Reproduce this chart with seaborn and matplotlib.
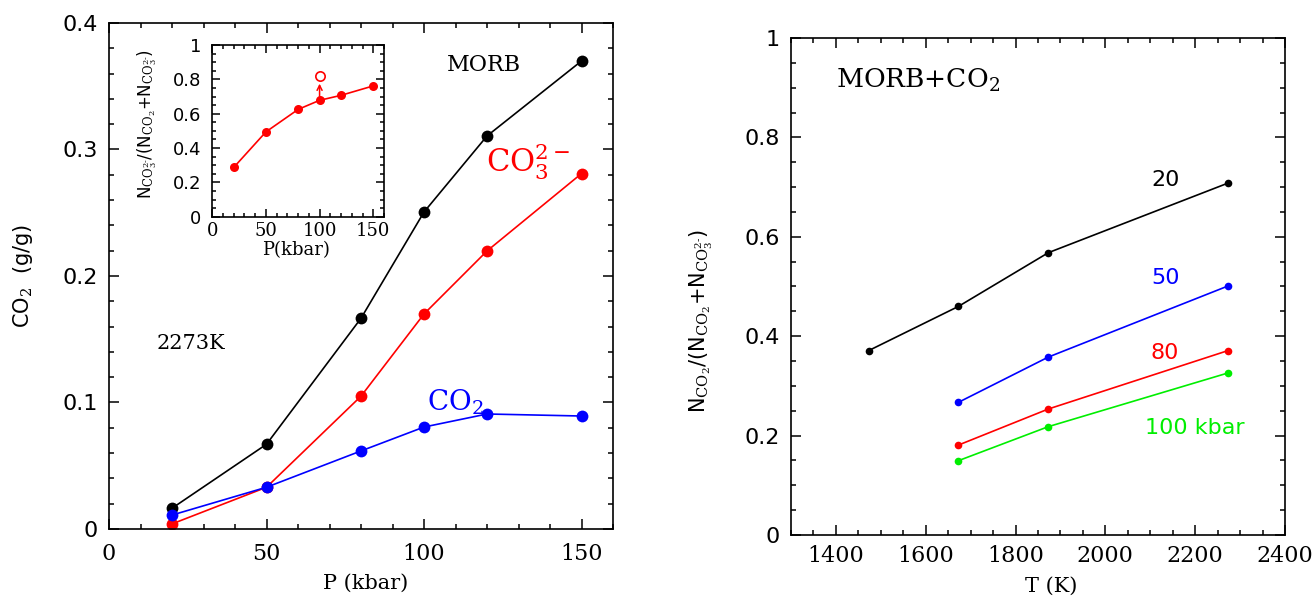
import numpy as np
import pandas as pd
import matplotlib
matplotlib.use('Agg')
import matplotlib.pyplot as plt
from matplotlib.ticker import MultipleLocator
import seaborn as sns

# Left panel: CO2 content vs pressure at 2273 K
pressure = [20, 50, 80, 100, 120, 150]
morb_total = [0.0164, 0.067, 0.1666, 0.2506, 0.3107, 0.370]
carbonate = [0.004, 0.033, 0.105, 0.170, 0.2198, 0.281]
molecular = [0.011, 0.033, 0.0617, 0.0806, 0.0909, 0.0893]

# Inset: carbonate fraction vs pressure
inset_frac = [0.287, 0.494, 0.625, 0.678, 0.707, 0.762]
open_p = [100]
open_frac = [0.82]

# Right panel: molecular CO2 fraction vs temperature
temps = [1473, 1673, 1873, 2273]
frac_20 = [0.371, 0.460, 0.568, 0.708]
temps_hi = [1673, 1873, 2273]
frac_50 = [0.267, 0.358, 0.501]
frac_80 = [0.181, 0.2535, 0.371]
frac_100 = [0.1496, 0.218, 0.326]

sns.set_style("ticks")
plt.rcParams['font.family'] = ['DejaVu Serif']
plt.rcParams['mathtext.fontset'] = 'dejavuserif'
plt.rcParams['text.color'] = 'black'
plt.rcParams['axes.labelcolor'] = 'black'
plt.rcParams['xtick.color'] = 'black'
plt.rcParams['ytick.color'] = 'black'

SANS = ['DejaVu Sans']
GREEN = '#00ee00'

fig = plt.figure(figsize=(13.15, 6.02), dpi=100)
ax1 = fig.add_axes([0.0829, 0.1213, 0.3833, 0.8405])
ax2 = fig.add_axes([0.6015, 0.1113, 0.3757, 0.8256])
axin = fig.add_axes([0.1614, 0.640, 0.1306, 0.2852])


def style_axes(ax, major_len=7, minor_len=3.5, size=16, xpad=10, ypad=8):
    ax.tick_params(which='both', direction='in', top=True, right=True,
                   width=1.1, colors='black')
    ax.tick_params(which='major', length=major_len)
    ax.tick_params(which='minor', length=minor_len)
    ax.tick_params(axis='x', labelsize=size, pad=xpad)
    ax.tick_params(axis='y', labelsize=size, pad=ypad)
    for lab in ax.get_yticklabels():
        lab.set_family(SANS)
    for s in ax.spines.values():
        s.set_linewidth(1.2)
        s.set_color('black')


# ---- left panel ----
line_kw = dict(marker='o', markeredgewidth=0, linewidth=1.2)
sns.lineplot(x=pressure, y=morb_total, ax=ax1, color='black', markersize=8.5, **line_kw)
sns.lineplot(x=pressure, y=carbonate, ax=ax1, color='red', markersize=8.5, **line_kw)
sns.lineplot(x=pressure, y=molecular, ax=ax1, color='blue', markersize=8.5, **line_kw)
ax1.set_xlim(0, 160)
ax1.set_ylim(0, 0.4)
ax1.xaxis.set_major_locator(MultipleLocator(50))
ax1.xaxis.set_minor_locator(MultipleLocator(10))
ax1.yaxis.set_major_locator(MultipleLocator(0.1))
ax1.yaxis.set_minor_locator(MultipleLocator(0.02))
ax1.set_yticks([0, 0.1, 0.2, 0.3, 0.4], ['0', '0.1', '0.2', '0.3', '0.4'])
style_axes(ax1)
ax1.set_xlabel('P (kbar)', fontsize=15)
ax1.xaxis.set_label_coords(0.51, -0.088)
ax1.set_ylabel(r'CO$_2$  (g/g)', fontsize=15, family=SANS)
ax1.yaxis.set_label_coords(-0.147, 0.5)

ax1.text(119, 0.367, 'MORB', fontsize=16, ha='center', va='center')
ax1.text(133, 0.290, r'CO$_3^{2-}$', fontsize=22, color='red', ha='center', va='center')
ax1.text(110, 0.100, r'CO$_2$', fontsize=20, color='blue', ha='center', va='center')
ax1.text(26, 0.147, '2273K', fontsize=15, ha='center', va='center')

# ---- inset ----
sns.lineplot(x=pressure, y=inset_frac, ax=axin, color='red', markersize=6.5, **line_kw)
sns.scatterplot(x=open_p, y=open_frac, ax=axin, s=45, facecolor='white',
                edgecolor='red', linewidth=1.2, zorder=5)
axin.annotate('', xy=(open_p[0], open_frac[0] - 0.045), xytext=(open_p[0], inset_frac[3]),
              arrowprops=dict(arrowstyle='->', color='red', lw=1.1,
                              shrinkA=0, shrinkB=0, mutation_scale=9))
axin.set_xlim(0, 160)
axin.set_ylim(0, 1)
axin.xaxis.set_major_locator(MultipleLocator(50))
axin.xaxis.set_minor_locator(MultipleLocator(10))
axin.yaxis.set_major_locator(MultipleLocator(0.2))
axin.yaxis.set_minor_locator(MultipleLocator(0.05))
axin.set_yticks([0, 0.2, 0.4, 0.6, 0.8, 1.0], ['0', '0.2', '0.4', '0.6', '0.8', '1'])
style_axes(axin, major_len=6, minor_len=3, size=13, xpad=4, ypad=8)
axin.set_xlabel('P(kbar)', fontsize=13)
axin.xaxis.set_label_coords(0.49, -0.14)
axin.set_ylabel(r'N$_{\mathrm{CO_3^{2\text{-}}}}$/(N$_{\mathrm{CO_2}}$+N$_{\mathrm{CO_3^{2\text{-}}}}$)',
                fontsize=12, family=SANS)
axin.yaxis.set_label_coords(-0.31, 0.54)

# ---- right panel ----
sns.lineplot(x=temps, y=frac_20, ax=ax2, color='black', markersize=5.5, **line_kw)
sns.lineplot(x=temps_hi, y=frac_50, ax=ax2, color='blue', markersize=5.5, **line_kw)
sns.lineplot(x=temps_hi, y=frac_80, ax=ax2, color='red', markersize=5.5, **line_kw)
sns.lineplot(x=temps_hi, y=frac_100, ax=ax2, color=GREEN, markersize=5.5, **line_kw)
ax2.set_xlim(1300, 2400)
ax2.set_ylim(0, 1)
ax2.xaxis.set_major_locator(MultipleLocator(200))
ax2.xaxis.set_minor_locator(MultipleLocator(50))
ax2.yaxis.set_major_locator(MultipleLocator(0.2))
ax2.yaxis.set_minor_locator(MultipleLocator(0.05))
ax2.set_yticks([0, 0.2, 0.4, 0.6, 0.8, 1.0], ['0', '0.2', '0.4', '0.6', '0.8', '1'])
style_axes(ax2, xpad=7, ypad=8)
ax2.set_xlabel('T (K)', fontsize=15)
ax2.xaxis.set_label_coords(0.527, -0.085)
ax2.set_ylabel(r'N$_{\mathrm{CO_2}}$/(N$_{\mathrm{CO_2}}$+N$_{\mathrm{CO_3^{2\text{-}}}}$)',
               fontsize=15, family=SANS)
ax2.yaxis.set_label_coords(-0.154, 0.43)

ax2.text(1400, 0.915, r'MORB+CO$_2$', fontsize=19, ha='left', va='center')
ax2.text(2133, 0.714, '20', fontsize=16, family=SANS, ha='center', va='center')
ax2.text(2133, 0.517, '50', fontsize=16, family=SANS, ha='center', va='center', color='blue')
ax2.text(2133, 0.367, '80', fontsize=16, family=SANS, ha='center', va='center', color='red')
ax2.text(2199, 0.215, '100 kbar', fontsize=16, family=SANS, ha='center', va='center', color=GREEN)

fig.savefig('out.png', dpi=100)
